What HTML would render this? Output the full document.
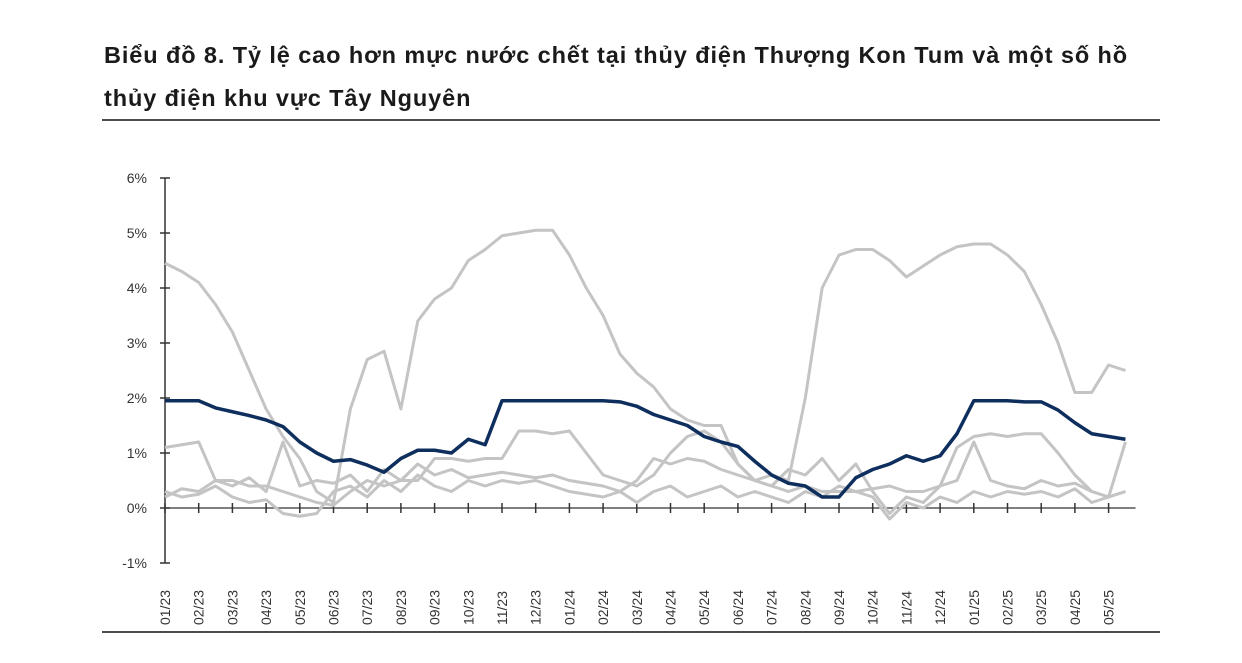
<!DOCTYPE html>
<html><head><meta charset="utf-8">
<style>
body{margin:0;background:#fff;width:1242px;height:663px;overflow:hidden;font-family:"Liberation Sans",sans-serif;}
.title{position:absolute;left:104px;top:34px;font-size:23.5px;font-weight:bold;color:#1a1a1a;line-height:43px;letter-spacing:0.9px;white-space:nowrap;}
</style></head><body>
<div class="title">Biểu đồ 8. Tỷ lệ cao hơn mực nước chết tại thủy điện Thượng Kon Tum và một số hồ<br>thủy điện khu vực Tây Nguyên</div>
<svg id="chart" width="1242" height="663" style="position:absolute;left:0;top:0">
<line x1="102" y1="120" x2="1160" y2="120" stroke="#111" stroke-width="1.5"/>
<line x1="102" y1="632" x2="1160" y2="632" stroke="#111" stroke-width="1.5"/>
</svg>
<script>
const months=["01/23","02/23","03/23","04/23","05/23","06/23","07/23","08/23","09/23","10/23","11/23","12/23","01/24","02/24","03/24","04/24","05/24","06/24","07/24","08/24","09/24","10/24","11/24","12/24","01/25","02/25","03/25","04/25","05/25"];
const yTicks=[-1,0,1,2,3,4,5,6];
const navy=[1.95,1.95,1.95,1.82,1.75,1.68,1.6,1.48,1.2,1.0,
0.85,0.88,0.78,0.65,0.9,1.05,1.05,1.0,1.25,1.15,
1.95,1.95,1.95,1.95,1.95,1.95,1.95,1.93,1.85,1.7,
1.6,1.5,1.3,1.2,1.12,0.85,0.6,0.45,0.4,0.2,
0.2,0.55,0.7,0.8,0.95,0.85,0.95,1.35,1.95,1.95,
1.95,1.93,1.93,1.78,1.55,1.35,1.3,1.25];
const grayA=[4.45,4.3,4.1,3.7,3.2,2.5,1.8,1.3,0.9,0.3,
0.1,1.8,2.7,2.85,1.8,3.4,3.8,4.0,4.5,4.7,
4.95,5.0,5.05,5.05,4.6,4.0,3.5,2.8,2.45,2.2,
1.8,1.6,1.5,1.5,0.8,0.5,0.6,0.5,2.0,4.0,
4.6,4.7,4.7,4.5,4.2,4.4,4.6,4.75,4.8,4.8,
4.6,4.3,3.7,3.0,2.1,2.1,2.6,2.5];
const grayB=[1.1,1.15,1.2,0.5,0.5,0.4,0.4,0.3,0.2,0.1,
0.05,0.3,0.5,0.4,0.5,0.5,0.9,0.9,0.85,0.9,
0.9,1.4,1.4,1.35,1.4,1.0,0.6,0.5,0.4,0.6,
1.0,1.3,1.4,1.2,0.8,0.5,0.4,0.3,0.4,0.3,
0.3,0.3,0.35,0.4,0.3,0.3,0.4,1.1,1.3,1.35,
1.3,1.35,1.35,1.0,0.6,0.3,0.2,1.2];
const grayC=[0.2,0.35,0.3,0.5,0.4,0.55,0.3,1.2,0.4,0.5,
0.45,0.6,0.3,0.7,0.5,0.8,0.6,0.7,0.55,0.6,
0.65,0.6,0.55,0.6,0.5,0.45,0.4,0.3,0.5,0.9,
0.8,0.9,0.85,0.7,0.6,0.5,0.4,0.7,0.6,0.9,
0.5,0.8,0.3,-0.1,0.2,0.1,0.4,0.5,1.2,0.5,
0.4,0.35,0.5,0.4,0.45,0.3,0.2,0.3];
const grayD=[0.3,0.2,0.25,0.4,0.2,0.1,0.15,-0.1,-0.15,-0.1,
0.3,0.4,0.2,0.5,0.3,0.6,0.4,0.3,0.5,0.4,
0.5,0.45,0.5,0.4,0.3,0.25,0.2,0.3,0.1,0.3,
0.4,0.2,0.3,0.4,0.2,0.3,0.2,0.1,0.3,0.2,
0.4,0.3,0.2,-0.2,0.1,0.0,0.2,0.1,0.3,0.2,
0.3,0.25,0.3,0.2,0.35,0.1,0.2,0.3];
const ns="http://www.w3.org/2000/svg";
const svg=document.getElementById('chart');
const X0=165,MW=33.7,Y0=508,PY=55;
const xs=m=>X0+m*MW, ys=v=>Y0-v*PY;
function mk(t,a){const e=document.createElementNS(ns,t);for(const k in a)e.setAttribute(k,a[k]);svg.appendChild(e);return e;}
const ya=mk('line',{x1:X0,y1:ys(6),x2:X0,y2:ys(-1),stroke:'#333','stroke-width':1.5});


const xa=mk('line',{x1:X0,y1:Y0,x2:xs(28.8),y2:Y0,stroke:'#333','stroke-width':1.2});


yTicks.forEach(v=>{
 const t=mk('line',{x1:X0-5,y1:ys(v),x2:X0+5,y2:ys(v),stroke:'#333','stroke-width':1.5});
 
 
 const l=mk('text',{x:X0-18,y:ys(v)+5,'text-anchor':'end','font-size':14,fill:'#333'});
 l.textContent=v+'%';
 
 
});
months.forEach((m,i)=>{
 const x=xs(i);
 const t=mk('line',{x1:x,y1:Y0-5,x2:x,y2:Y0+5,stroke:'#333','stroke-width':1.5});
 
 
 const l=mk('text',{x:0,y:0,'text-anchor':'start','font-size':14,fill:'#333',transform:`translate(${x+5},625) rotate(-90)`});
 l.textContent=m;
 
 
});
function series(d,col,w,name){
 const pts=d.map((v,i)=>xs(i*0.5)+','+ys(v)).join(' ');
 const p=mk('polyline',{points:pts,fill:'none',stroke:col,'stroke-width':w,'stroke-linejoin':'round'});
 
 
}
series(grayD,'#c4c4c4',3,'series-gray-d');
series(grayC,'#c4c4c4',3,'series-gray-c');
series(grayB,'#c4c4c4',3,'series-gray-b');
series(grayA,'#c4c4c4',3,'series-gray-a');
series(navy,'#0e2f5e',3.5,'series-thuong-kon-tum');
</script>
</body></html>
